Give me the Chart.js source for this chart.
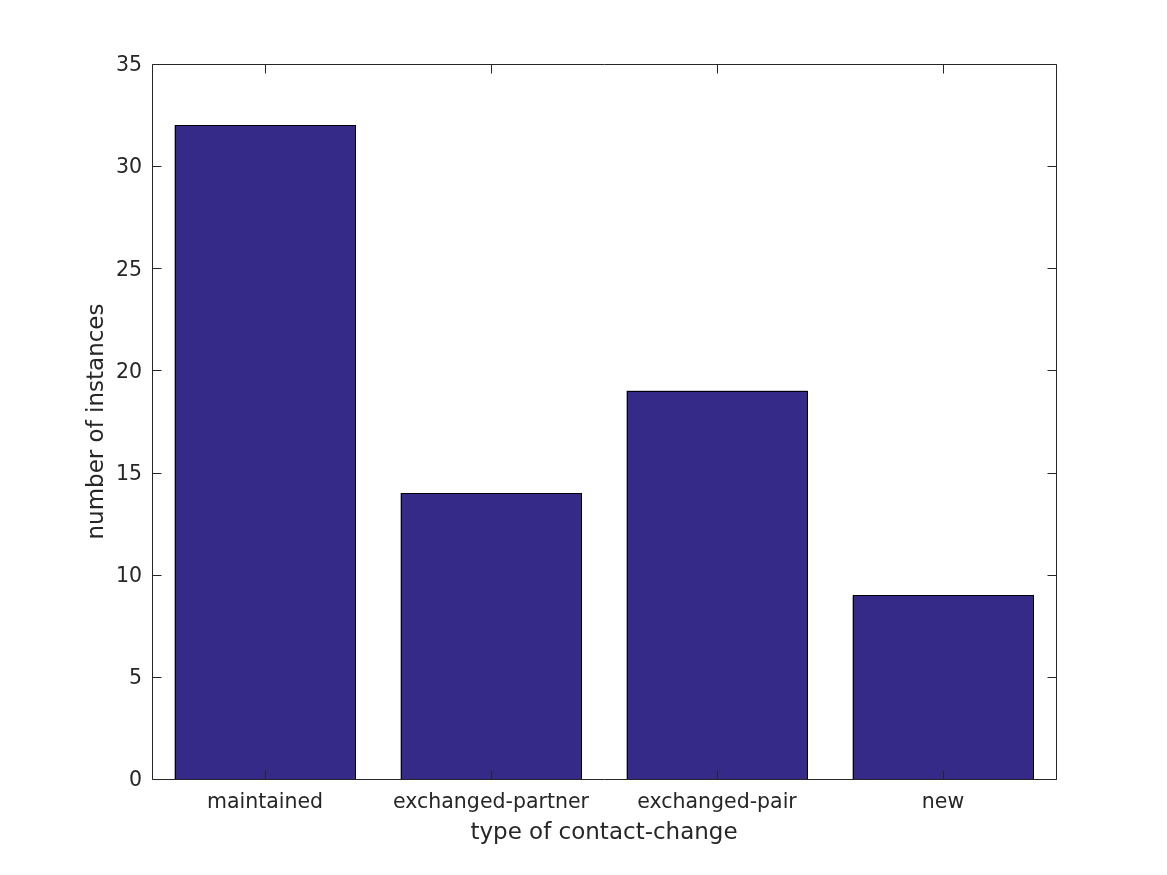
<!DOCTYPE html>
<html>
<head>
<meta charset="utf-8">
<script src="https://cdn.jsdelivr.net/npm/chart.js@4.4.0/dist/chart.umd.min.js"></script>
<style>
html,body{margin:0;padding:0;background:#fff;}
#wrap{width:1167px;height:875px;position:relative;}
</style>
</head>
<body>
<div id="wrap"><canvas id="c" width="1167" height="875"></canvas></div>
<script>
const categories = ["maintained", "exchanged-partner", "exchanged-pair", "new"];
const counts = [32, 14, 19, 9];
const yTicks = [0, 5, 10, 15, 20, 25, 30, 35];
const xTitle = "type of contact-change";
const yTitle = "number of instances";

const axisColor = "#262626";
const fontFamily = "'DejaVu Sans', sans-serif";

const framePlugin = {
  id: 'frame',
  afterDatasetsDraw(chart) {
    const {ctx, chartArea: a, scales: {x, y}} = chart;
    ctx.save();
    ctx.strokeStyle = '#000000';
    ctx.lineWidth = 1;
    chart.getDatasetMeta(0).data.forEach(bar => {
      const p = bar.getProps(['x', 'y', 'base', 'width'], true);
      const l = Math.round(p.x - p.width / 2) + 0.5;
      const r = Math.round(p.x + p.width / 2) + 0.5;
      const t = Math.round(p.y) + 0.5;
      const b = Math.round(p.base) + 0.5;
      ctx.strokeRect(l, t, r - l, b - t);
    });
    const L = Math.round(a.left) + 0.5, R = Math.round(a.right) + 0.5;
    const T = Math.round(a.top) + 0.5, B = Math.round(a.bottom) + 0.5;
    const tl = 9;
    ctx.strokeStyle = axisColor;
    ctx.beginPath();
    ctx.rect(L, T, R - L, B - T);
    yTicks.forEach(v => {
      const py = Math.round(y.getPixelForValue(v)) + 0.5;
      ctx.moveTo(L, py); ctx.lineTo(L + tl, py);
      ctx.moveTo(R, py); ctx.lineTo(R - tl, py);
    });
    categories.forEach((c, i) => {
      const px = Math.round(x.getPixelForValue(i)) + 0.5;
      ctx.moveTo(px, B); ctx.lineTo(px, B - tl);
      ctx.moveTo(px, T); ctx.lineTo(px, T + tl);
    });
    ctx.stroke();
    ctx.restore();
  }
};

new Chart(document.getElementById('c'), {
  type: 'bar',
  data: {
    labels: categories,
    datasets: [{
      data: counts,
      backgroundColor: '#352a87',
      borderWidth: 0,
      barPercentage: 0.8,
      categoryPercentage: 1.0
    }]
  },
  options: {
    responsive: false,
    animation: false,
    devicePixelRatio: 1,
    layout: { padding: { top: 64, right: 111, left: 0, bottom: 0 } },
    plugins: { legend: { display: false }, tooltip: { enabled: false } },
    scales: {
      x: {
        grid: { display: false, drawTicks: false },
        border: { display: false },
        ticks: { color: axisColor, font: { family: fontFamily, size: 20.5 }, padding: 11, maxRotation: 0, autoSkip: false },
        title: { display: true, text: xTitle, color: axisColor, font: { family: fontFamily, size: 23 }, padding: { bottom: 28, top: 0 } },
        afterFit(s) { s.height = 96; }
      },
      y: {
        min: 0, max: 35,
        afterBuildTicks(s) { s.ticks = yTicks.map(v => ({ value: v })); },
        grid: { display: false, drawTicks: false },
        border: { display: false },
        ticks: { color: axisColor, font: { family: fontFamily, size: 20.5 }, padding: 10, labelOffset: 2 },
        title: { display: true, text: yTitle, color: axisColor, font: { family: fontFamily, size: 23 }, padding: { top: 83, bottom: 0 } },
        afterFit(s) { s.width = 152; }
      }
    }
  },
  plugins: [framePlugin]
});
</script>
</body>
</html>
